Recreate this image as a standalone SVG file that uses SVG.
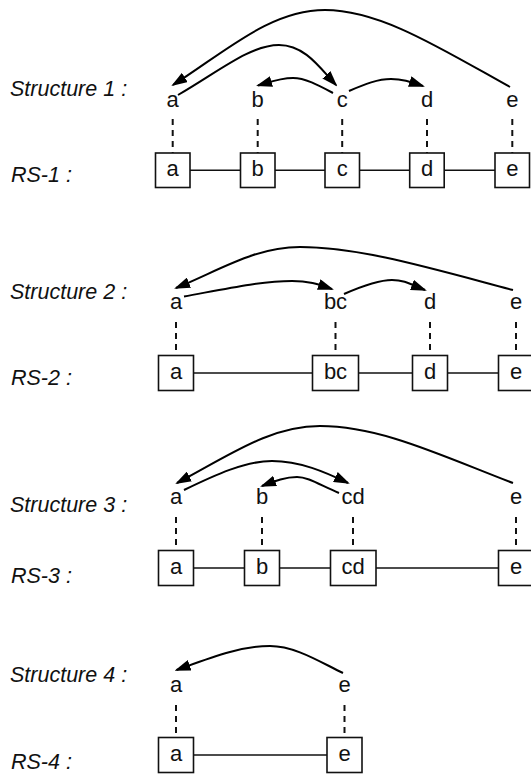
<svg xmlns="http://www.w3.org/2000/svg" width="531" height="775" viewBox="0 0 531 775">
  <defs>
    <marker id="arrow" markerWidth="16" markerHeight="11" refX="14" refY="5.5" orient="auto" markerUnits="userSpaceOnUse">
      <path d="M0,0 L16,5.5 L0,11 z" fill="#000"/>
    </marker>
    <style>
      .lbl { font-family: "Liberation Sans", Arial, sans-serif; font-style: italic; font-size: 21.5px; fill: #111; }
      .ch { font-family: "Liberation Sans", Arial, sans-serif; font-size: 22px; fill: #111; text-anchor: middle; }
      .box { fill: #fff; stroke: #111; stroke-width: 1.6; }
      .link { stroke: #111; stroke-width: 1.6; fill: none; }
      .dash { stroke: #111; stroke-width: 2; stroke-dasharray: 6 5; fill: none; }
      .arc { stroke: #000; stroke-width: 2; fill: none; marker-end: url(#arrow); }
    </style>
  </defs>
  <rect width="531" height="775" fill="#fff"/>

  <!-- row labels -->
  <g id="labels">
    <text class="lbl" x="10" y="96">Structure 1 :</text>
    <text class="lbl" x="11" y="181.5">RS-1 :</text>
    <text class="lbl" x="10" y="298.5">Structure 2 :</text>
    <text class="lbl" x="11" y="385">RS-2 :</text>
    <text class="lbl" x="10" y="512">Structure 3 :</text>
    <text class="lbl" x="11" y="582.5">RS-3 :</text>
    <text class="lbl" x="10" y="681.5">Structure 4 :</text>
    <text class="lbl" x="11" y="769">RS-4 :</text>
  </g>

  <!-- connectors: chains, projections, dependency arcs -->
  <g id="connectors">
    <!-- chain lines between boxes -->
    <line class="link" x1="190" y1="170.2" x2="240.5" y2="170.2"/>
    <line class="link" x1="275" y1="170.2" x2="325.5" y2="170.2"/>
    <line class="link" x1="359" y1="170.2" x2="409.7" y2="170.2"/>
    <line class="link" x1="444.3" y1="170.2" x2="495" y2="170.2"/>

    <line class="link" x1="193.5" y1="373" x2="312.5" y2="373"/>
    <line class="link" x1="358.5" y1="373" x2="412.5" y2="373"/>
    <line class="link" x1="447.5" y1="373" x2="498.5" y2="373"/>

    <line class="link" x1="193.5" y1="568" x2="244.5" y2="568"/>
    <line class="link" x1="279.5" y1="568" x2="330.5" y2="568"/>
    <line class="link" x1="376" y1="568" x2="498.5" y2="568"/>

    <line class="link" x1="193.5" y1="755" x2="327" y2="755"/>

    <!-- projections -->
    <line class="dash" x1="172.7" y1="119" x2="172.7" y2="153"/>
    <line class="dash" x1="257.7" y1="119" x2="257.7" y2="153"/>
    <line class="dash" x1="342.2" y1="119" x2="342.2" y2="153"/>
    <line class="dash" x1="427" y1="119" x2="427" y2="153"/>
    <line class="dash" x1="512.3" y1="119" x2="512.3" y2="153"/>

    <line class="dash" x1="176" y1="322" x2="176" y2="355.5"/>
    <line class="dash" x1="335.5" y1="322" x2="335.5" y2="355.5"/>
    <line class="dash" x1="430" y1="322" x2="430" y2="355.5"/>
    <line class="dash" x1="516" y1="322" x2="516" y2="355.5"/>

    <line class="dash" x1="176" y1="517" x2="176" y2="550.5"/>
    <line class="dash" x1="262" y1="517" x2="262" y2="550.5"/>
    <line class="dash" x1="353" y1="517" x2="353" y2="550.5"/>
    <line class="dash" x1="516" y1="517" x2="516" y2="550.5"/>

    <line class="dash" x1="176" y1="705" x2="176" y2="737.5"/>
    <line class="dash" x1="344.5" y1="705" x2="344.5" y2="737.5"/>

    <!-- structure 1 arcs -->
    <path class="arc" d="M510,87 C440,48 380,10 325,10 C270,10 225,52 173,85"/>
    <path class="arc" d="M178,95 C218,72 250,45 279,45 C305,45 320,68 336,85"/>
    <path class="arc" d="M333,93 C318,85 305,78 293,78 C280,78 270,82 258,85.5"/>
    <path class="arc" d="M349,91 C365,84 378,79 391,79 C403,79 411,82 423,86"/>

    <!-- structure 2 arcs -->
    <path class="arc" d="M513,290 C430,268 360,247 300,247 C255,247 220,270 176,288"/>
    <path class="arc" d="M184,296.5 C220,290 260,281 292,281 C310,281 320,285 332,289"/>
    <path class="arc" d="M344,294 C360,287 378,280 392,280 C405,280 412,285 425,290"/>

    <!-- structure 3 arcs -->
    <path class="arc" d="M513,483 C440,455 380,426 320,426 C270,426 230,455 177,483"/>
    <path class="arc" d="M184,490 C215,475 245,461 272,461 C300,461 325,472 348,483"/>
    <path class="arc" d="M339,493 C320,485 308,477 297,477 C285,477 275,481 262,486"/>

    <!-- structure 4 arc -->
    <path class="arc" d="M343,673 C320,662 295,646 270,646 C240,646 210,658 176.5,670"/>
  </g>

  <!-- structure 1 -->
  <g id="s1-a"><text class="ch" x="172.7" y="106.5">a</text></g>
  <g id="s1-b"><text class="ch" x="257.7" y="106.5">b</text></g>
  <g id="s1-c"><text class="ch" x="342.2" y="106.5">c</text></g>
  <g id="s1-d"><text class="ch" x="427" y="106.5">d</text></g>
  <g id="s1-e"><text class="ch" x="512.3" y="106.5">e</text></g>

  <!-- RS-1 -->
  <g id="rs1-a"><rect class="box" x="155.5" y="153" width="34.5" height="34.5"/><text class="ch" x="172.7" y="176">a</text></g>
  <g id="rs1-b"><rect class="box" x="240.5" y="153" width="34.5" height="34.5"/><text class="ch" x="257.7" y="176">b</text></g>
  <g id="rs1-c"><rect class="box" x="325" y="153" width="34.5" height="34.5"/><text class="ch" x="342.2" y="176">c</text></g>
  <g id="rs1-d"><rect class="box" x="409.7" y="153" width="34.5" height="34.5"/><text class="ch" x="427" y="176">d</text></g>
  <g id="rs1-e"><rect class="box" x="495" y="153" width="34.5" height="34.5"/><text class="ch" x="512.3" y="176">e</text></g>

  <!-- structure 2 -->
  <g id="s2-a"><text class="ch" x="176" y="308.5">a</text></g>
  <g id="s2-bc"><text class="ch" x="335.5" y="308.5">bc</text></g>
  <g id="s2-d"><text class="ch" x="430" y="308.5">d</text></g>
  <g id="s2-e"><text class="ch" x="516" y="308.5">e</text></g>

  <!-- RS-2 -->
  <g id="rs2-a"><rect class="box" x="158.5" y="355.5" width="35" height="35"/><text class="ch" x="176" y="379">a</text></g>
  <g id="rs2-bc"><rect class="box" x="312.5" y="355.5" width="46" height="35"/><text class="ch" x="335.5" y="379">bc</text></g>
  <g id="rs2-d"><rect class="box" x="412.5" y="355.5" width="35" height="35"/><text class="ch" x="430" y="379">d</text></g>
  <g id="rs2-e"><rect class="box" x="498.5" y="355.5" width="35" height="35"/><text class="ch" x="516" y="379">e</text></g>

  <!-- structure 3 -->
  <g id="s3-a"><text class="ch" x="176" y="504">a</text></g>
  <g id="s3-b"><text class="ch" x="262" y="504">b</text></g>
  <g id="s3-cd"><text class="ch" x="353" y="504">cd</text></g>
  <g id="s3-e"><text class="ch" x="516" y="504">e</text></g>

  <!-- RS-3 -->
  <g id="rs3-a"><rect class="box" x="158.5" y="550.5" width="35" height="35"/><text class="ch" x="176" y="574">a</text></g>
  <g id="rs3-b"><rect class="box" x="244.5" y="550.5" width="35" height="35"/><text class="ch" x="262" y="574">b</text></g>
  <g id="rs3-cd"><rect class="box" x="330.5" y="550.5" width="45.5" height="35"/><text class="ch" x="353" y="574">cd</text></g>
  <g id="rs3-e"><rect class="box" x="498.5" y="550.5" width="35" height="35"/><text class="ch" x="516" y="574">e</text></g>

  <!-- structure 4 -->
  <g id="s4-a"><text class="ch" x="176" y="692">a</text></g>
  <g id="s4-e"><text class="ch" x="344.5" y="692">e</text></g>

  <!-- RS-4 -->
  <g id="rs4-a"><rect class="box" x="158.5" y="737.5" width="35" height="35"/><text class="ch" x="176" y="761">a</text></g>
  <g id="rs4-e"><rect class="box" x="327" y="737.5" width="35" height="35"/><text class="ch" x="344.5" y="761">e</text></g>
</svg>
